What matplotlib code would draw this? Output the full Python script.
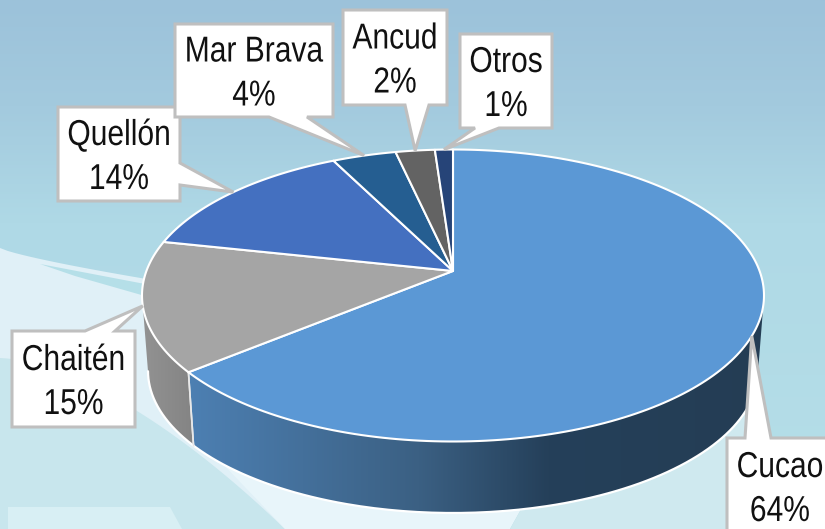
import numpy as np
from matplotlib import pyplot as plt
from matplotlib.patches import Polygon
from matplotlib.patheffects import AbstractPathEffect
from matplotlib.transforms import Affine2D

# shares measured on the rim, the callouts show the rounded numbers
names = ['Cucao', 'Chaitén', 'Quellón', 'Mar Brava', 'Ancud', 'Otros']
shares = [64.0, 14.4, 14.2, 3.9, 2.4, 1.1]
percent_labels = ['64%', '15%', '14%', '4%', '2%', '1%']
top_colors = ['#5b98d5', '#a5a5a5', '#4470c0', '#255e91', '#636363', '#264478']

# pie geometry in pixels
cx = 453.0
top_y = 295.5
rx_top = 311.0
ry_top = 146.0
bottom_y = 371.0
rx_bottom = 305.0
ry_bottom = 142.0
tilt = 0.168

# box = x0, y0, x1, y1 and the pointer base (side, start, end)
boxes = [
    (727, 438, 833, 534, 'top', 745, 771),
    (12, 331, 135, 427, 'top', 85, 115),
    (58, 107, 180, 201, 'right', 163, 185),
    (175, 24, 333, 117, 'bottom', 269, 307),
    (343, 10, 447, 105, 'bottom', 405, 429),
    (460, 34, 552, 128, 'bottom', 475, 499),
]


class TallText(AbstractPathEffect):
    # the reference text is stretched upward, keep the baseline where it is
    def __init__(self, ratio):
        super().__init__()
        self.ratio = ratio

    def draw_path(self, renderer, gc, tpath, affine, rgbFace=None):
        renderer.draw_path(gc, tpath, Affine2D().scale(1, self.ratio) + affine, rgbFace)


def warp(u, v):
    # perspective of the unit disc, moves the centre up to the apex
    d = 1 + tilt * v
    return u * np.sqrt(1 - tilt * tilt) / d, (v + tilt) / d


def rim(pos):
    ang = 2 * np.pi * np.asarray(pos)
    return warp(np.sin(ang), np.cos(ang))


def to_top(u, v):
    return cx + rx_top * u, top_y - ry_top * v


def to_bottom(u, v):
    return cx + rx_bottom * u, bottom_y - ry_bottom * v


def gradient(ax, stops, extent, vertical=True, zorder=0):
    pos = [s[0] for s in stops]
    cols = np.array([plt.matplotlib.colors.to_rgb(s[1]) for s in stops])
    t = np.linspace(0, 1, 256)
    arr = np.stack([np.interp(t, pos, cols[:, i]) for i in range(3)], axis=-1)
    arr = arr[:, None, :] if vertical else arr[None, :, :]
    return ax.imshow(arr, extent=extent, aspect='auto', zorder=zorder, origin='upper')


fig = plt.figure(figsize=(8.25, 5.29), dpi=100)
ax = fig.add_axes([0, 0, 1, 1])
ax.axis('off')

# background
gradient(ax, [(0, '#9cc2da'), (0.2, '#a3cade'), (0.42, '#afd9e6'), (1, '#b6dfe8')], (0, 825, 529, 0))
sw = np.linspace(0, 1, 40)
ax.add_patch(Polygon(np.r_[np.c_[sw * 300, 248 + 55 * sw ** 0.8], [[300, 529], [0, 529]]],
                     fc='#e0f0f7', ec='none', zorder=0.2))
ax.add_patch(Polygon([[40, 264], [145, 284], [145, 296], [75, 276]], fc='#b5dfe8', ec='none', zorder=0.3))
ax.add_patch(Polygon(np.r_[np.c_[sw * 285, 358 + 171 * sw ** 1.6], [[0, 529]]],
                     fc='#c8e6ed', ec='none', zorder=0.4))
ax.add_patch(Polygon([[8, 507], [170, 507], [182, 529], [8, 529]], fc='#d8eff4', ec='none', zorder=0.5))
ax.add_patch(Polygon([[285, 529], [200, 440], [560, 440], [510, 529]], fc='#e8f5fa', ec='none', zorder=0.5))
ax.add_patch(Polygon([[510, 529], [560, 440], [735, 410], [760, 400], [735, 529]],
                     fc='#cfe9ef', ec='none', zorder=0.6))

# side wall, only the front part of the rim shows
bounds = np.r_[0, np.cumsum(shares)] / np.sum(shares)
for i in range(2):
    p = np.linspace(bounds[i], bounds[i + 1], 300)
    u, v = rim(p)
    keep = v <= 0
    xt, yt = to_top(u[keep], v[keep])
    xb, yb = to_bottom(u[keep], v[keep])
    wall = Polygon(np.r_[np.c_[xt, yt], np.c_[xb, yb][::-1]], fc='none', ec='none', zorder=1)
    ax.add_patch(wall)
    if i == 0:
        im = gradient(ax, [(0, '#4d80b3'), (0.4, '#3b6083'), (0.62, '#25405a'), (1, '#243d54')],
                      (185, 770, 529, 150), vertical=False, zorder=1)
    else:
        im = gradient(ax, [(0, '#939393'), (1, '#828282')], (140, 200, 529, 150), vertical=False, zorder=1)
    im.set_clip_path(wall)
    # white outline along the bottom and the dividing edge
    ax.plot(xb, yb, color='white', lw=1.6, zorder=1.5, solid_capstyle='round')
    ax.plot([xt[0 if i else -1], xb[0 if i else -1]], [yt[0 if i else -1], yb[0 if i else -1]],
            color='#e8e8e8', lw=1.2, zorder=1.5)

# top surface
apex = to_top(*warp(0.0, 0.0))
for i in range(len(shares)):
    p = np.linspace(bounds[i], bounds[i + 1], 200)
    xr, yr = to_top(*rim(p))
    pts = np.r_[[apex], np.c_[xr, yr]]
    ax.add_patch(Polygon(pts, closed=True, fc=top_colors[i], ec='white', lw=1.5, joinstyle='round', zorder=2))

# callouts, pointer tip sits on the rim at the middle of the slice
for i in range(len(shares)):
    x0, y0, x1, y1, side, s0, s1 = boxes[i]
    mid = (bounds[i] + bounds[i + 1]) / 2
    tip = to_top(*rim(mid))
    if side == 'top':
        pts = [(x0, y0), (s0, y0), tip, (s1, y0), (x1, y0), (x1, y1), (x0, y1)]
    elif side == 'bottom':
        pts = [(x0, y0), (x1, y0), (x1, y1), (s1, y1), tip, (s0, y1), (x0, y1)]
    else:
        pts = [(x0, y0), (x1, y0), (x1, s0), tip, (x1, s1), (x1, y1), (x0, y1)]
    ax.add_patch(Polygon(pts, closed=True, fc='white', ec='#bfbfbf', lw=2.2, joinstyle='miter', zorder=3 + i * 0.01))
    xc = (x0 + x1) / 2
    yc = (y0 + y1) / 2
    for line, dy in ((names[i], -9), (percent_labels[i], 35)):
        ax.text(xc, yc + dy, line, ha='center', va='baseline', family='Liberation Sans', fontsize=21.6,
                color='#111111', zorder=4, path_effects=[TallText(1.2)])

ax.set_xlim(0, 825)
ax.set_ylim(529, 0)

plt.savefig('out.png', dpi=100)
